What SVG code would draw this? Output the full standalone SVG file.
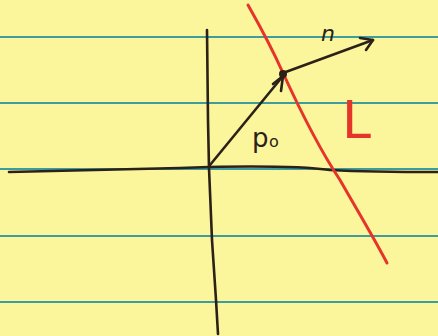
<svg xmlns="http://www.w3.org/2000/svg" width="438" height="336" viewBox="0 0 438 336">
<defs>
<style>
.rule{stroke:#3f9c9c;stroke-width:2;fill:none}
.ink{stroke:#2b2118;stroke-width:2.6;fill:none;stroke-linecap:round;stroke-linejoin:round}
.red{stroke:#e5352b;stroke-width:3;fill:none;stroke-linecap:round;stroke-linejoin:round}
.lbl{font-family:"DejaVu Sans",sans-serif;fill:#2b2118}
.rlbl{font-family:"DejaVu Sans",sans-serif;fill:#e5352b}
</style>
</defs>
<rect x="0" y="0" width="438" height="336" fill="#fbf59b"/>
<g id="paper-rules">
<line class="rule" x1="0" y1="37" x2="438" y2="37"/>
<line class="rule" x1="0" y1="103" x2="438" y2="103"/>
<line class="rule" x1="0" y1="169" x2="438" y2="169"/>
<line class="rule" x1="0" y1="236" x2="438" y2="236"/>
<line class="rule" x1="0" y1="302" x2="438" y2="302"/>
</g>
<g id="axes">
<path class="ink" d="M207,30 L208,120 L209,168 L212,240 L216,300 L218,334"/>
<path class="ink" d="M9,172 C60,171 120,169 180,168 L209,167 C260,166 300,166 330,170 C370,172 410,172 438,172"/>
</g>
<g id="line-L">
<path class="red" d="M248,5 C265,35 275,55 283,73 C300,110 320,150 340,180 C360,215 375,240 387,263"/>
<text class="rlbl" x="342" y="138" font-size="52">L</text>
</g>
<g id="connectors">
<g id="vec-p0">
<path class="ink" d="M210,165 L283,76"/>
<path class="ink" d="M273,84 L283,76 L281,91"/>
<circle cx="283" cy="74" r="4" fill="#2b2118"/>
</g>
<g id="vec-n">
<path class="ink" d="M283,73 L373,40"/>
<path class="ink" d="M360,38 L373,40 L366,50"/>
</g>
</g>
<g id="labels">
<text class="lbl" x="321" y="41" font-size="22" font-style="italic">n</text>
<text class="lbl" x="252" y="147" font-size="26">p</text>
<text class="lbl" x="269" y="147" font-size="16">o</text>
</g>
</svg>
